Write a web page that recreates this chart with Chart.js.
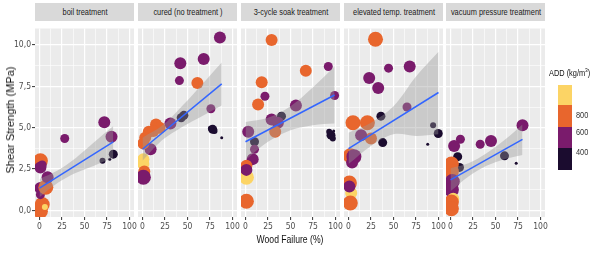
<!DOCTYPE html>
<html><head><meta charset="utf-8">
<script src="https://cdn.jsdelivr.net/npm/chart.js@4/dist/chart.umd.min.js"></script>
<style>
html,body{margin:0;padding:0;background:#fff;width:600px;height:258px;overflow:hidden;}
#wrap{position:relative;width:600px;height:258px;}
.strip{position:absolute;top:3px;height:18px;background:#D9D9D9;overflow:hidden;}
.strip span{position:absolute;left:50%;top:50%;white-space:nowrap;color:#1A1A1A;font-family:"Liberation Sans",Arial,sans-serif;font-size:9.5px;line-height:10px;transform:translate(-50%,-50%) scaleX(0.78);}
canvas{position:absolute;}
.ytitle{position:absolute;left:10px;top:120px;transform:translate(-50%,-50%) rotate(-90deg);font-family:"Liberation Sans",Arial,sans-serif;font-size:11px;color:#111;white-space:nowrap;}
.xtitle{position:absolute;left:290px;top:239px;transform:translate(-50%,-50%) scaleX(0.82);font-family:"Liberation Sans",Arial,sans-serif;font-size:10.5px;color:#111;white-space:nowrap;}
.ltitle{position:absolute;left:549px;top:67px;transform:scaleX(0.82);transform-origin:0 50%;font-family:"Liberation Sans",Arial,sans-serif;font-size:9px;color:#111;white-space:nowrap;}
.lblock{position:absolute;left:558px;width:14px;}
.llab{position:absolute;left:576px;transform:translateY(-50%) scaleX(0.82);transform-origin:0 50%;font-family:"Liberation Sans",Arial,sans-serif;font-size:9px;color:#333;}
</style>
</head>
<body>
<div id="wrap"></div>
<script>
// ---------- data ----------
const FACETS = ['boil treatment','cured (no treatment )','3-cycle soak treatment','elevated temp. treatment','vacuum pressure treatment'];

const boilWF  = [1, 3, 6, 1, 1, 7, 9, 1, 1, 3, 28, 72, 80, 82, 70, 78];
const boilSS  = [-0.05, 0.35, 0.2, 0.95, 1.35, 1.4, 2.0, 3.0, 2.6, 2.75, 4.35, 5.33, 4.45, 3.4, 3.0, 3.1];
const boilADD = [760, 760, 950, 560, 560, 760, 560, 760, 560, 560, 560, 560, 560, 380, 380, 380];
const boilSZ  = [5, 5, 2, 3, 4, 5, 4, 5, 4, 3, 3, 4, 4, 3, 2, 1];
const boilFitX = [0, 82];
const boilFitY = [1.35, 4.15];
const boilBandX  = [0, 20, 40, 60, 82];
const boilBandLo = [0.8, 1.65, 2.26, 2.69, 3.2];
const boilBandHi = [1.9, 2.41, 3.16, 4.09, 5.1];

const cureWF  = [86, 42, 68, 41, 61, 76, 78, 80, 76, 88, 43, 46, 31, 7, 15, 19, 12, 3, 9, 1, 1, 1, 2, 1];
const cureSS  = [10.45, 8.9, 9.15, 7.85, 7.7, 6.15, 4.9, 4.8, 4.95, 4.4, 5.6, 5.75, 5.25, 4.75, 5.2, 5.0, 4.8, 4.4, 3.7, 4.05, 3.1, 2.8, 2.35, 2.0];
const cureADD = [560, 560, 560, 560, 760, 560, 380, 380, 380, 380, 380, 380, 560, 760, 760, 760, 760, 760, 560, 760, 950, 950, 760, 560];
const cureSZ  = [4, 4, 4, 3, 4, 3, 3, 2, 2, 1, 3, 3, 4, 4, 4, 4, 4, 4, 4, 4, 4, 4, 4, 5];
const cureFitX = [0, 88];
const cureFitY = [3.7, 7.65];
const cureBandX  = [0, 22, 44, 66, 88];
const cureBandLo = [3.0, 4.25, 5.05, 5.7, 6.35];
const cureBandHi = [4.4, 5.13, 6.31, 7.62, 8.95];

const soakWF  = [29, 67, 92, 18, 21.6, 14, 99, 56, 40, 29, 36, 33, 3, 10, 10, 8, 1, 1, 1, 1, 95, 93, 98, 97];
const soakSS  = [10.3, 8.45, 8.7, 7.75, 6.9, 6.4, 6.95, 6.35, 5.7, 5.5, 5.3, 4.75, 4.75, 4.15, 3.7, 3.1, 2.7, 2.0, 2.45, 0.55, 4.55, 4.75, 4.8, 4.35];
const soakADD = [760, 760, 560, 760, 560, 760, 560, 560, 380, 560, 560, 760, 560, 380, 560, 560, 760, 950, 560, 760, 380, 380, 380, 380];
const soakSZ  = [4, 4, 3, 4, 3, 4, 3, 4, 3, 4, 4, 4, 4, 3, 3, 4, 4, 5, 4, 5, 3, 2, 1, 2];
const soakFitX = [0, 99];
const soakFitY = [4.15, 6.98];
const soakBandX  = [0, 25, 50, 75, 99];
const soakBandLo = [3.05, 4.15, 4.85, 5.15, 5.25];
const soakBandHi = [5.35, 5.6, 6.3, 7.45, 8.7];

const elevWF  = [30, 44.5, 68, 23, 33, 65, 36, 5, 21, 25, 14, 38, 94, 99.7, 88, 2, 6, 4, 1, 3, 1, 2];
const elevSS  = [10.35, 8.6, 8.7, 8.0, 7.4, 6.25, 5.7, 5.3, 5.3, 4.35, 4.55, 4.1, 5.15, 4.65, 4.0, 3.3, 3.25, 2.9, 1.65, 1.05, 1.45, 0.45];
const elevADD = [760, 560, 560, 560, 560, 560, 380, 760, 760, 760, 560, 380, 380, 380, 380, 760, 560, 560, 760, 950, 560, 760];
const elevSZ  = [5, 3, 4, 4, 4, 3, 3, 5, 5, 4, 4, 3, 2, 3, 1, 5, 5, 4, 5, 4, 4, 5];
const elevFitX = [0, 100];
const elevFitY = [3.74, 7.13];
const elevBandX  = [0, 25, 50, 75, 100];
const elevBandLo = [2.8, 3.9, 4.6, 4.5, 4.6];
const elevBandHi = [4.7, 5.3, 6.3, 8.1, 9.6];

const vacWF  = [80, 45, 33, 11, 4, 60, 73, 8, 10, 1, 1, 2, 1, 3, 1, 1];
const vacSS  = [5.15, 4.2, 4.0, 4.3, 3.9, 3.3, 2.85, 3.25, 2.6, 2.8, 2.35, 1.75, 1.25, 0.7, 0.5, 0.1];
const vacADD = [560, 560, 560, 560, 560, 380, 380, 380, 380, 760, 760, 560, 560, 950, 760, 760];
const vacSZ  = [4, 4, 3, 3, 4, 3, 1, 3, 3, 5, 5, 5, 5, 4, 5, 5];
const vacFitX = [0, 80];
const vacFitY = [1.84, 4.3];
const vacBandX  = [0, 20, 40, 60, 80];
const vacBandLo = [1.15, 2.05, 2.7, 3.1, 3.35];
const vacBandHi = [2.55, 2.85, 3.45, 4.25, 5.2];

const Y_TICKS = [0, 2.5, 5, 7.5, 10];
const Y_TICK_LABELS = ['0,0', '2,5', '5,0', '7,5', '10,0'];
const X_TICKS = [0, 25, 50, 75, 100];
const X_TICK_LABELS = ['0', '25', '50', '75', '100'];
const ADD_BREAKS = [443, 654, 908];
const LEGEND_LABELS = [800, 600, 400];

// ---------- styling ----------
const ADD_COLORS = ['#1B0C2F', '#7A1B6C', '#E8662D', '#FCD465'];
const SIZE_R = [0, 1.5, 3, 4.5, 6, 7.5];
const TICKFONT = '"DejaVu Sans Condensed","Liberation Sans Narrow",sans-serif';
const PL = [35, 138, 241, 344, 446];   // panel left (px)
const PW = 99, PTOP = 21, PH = 196, XAX = 16, PAD = 8;

function addColor(v){
  if (v < ADD_BREAKS[0]) return ADD_COLORS[0];
  if (v < ADD_BREAKS[1]) return ADD_COLORS[1];
  if (v < ADD_BREAKS[2]) return ADD_COLORS[2];
  return ADD_COLORS[3];
}

const PANELS = [
  {wf:boilWF, ss:boilSS, add:boilADD, sz:boilSZ, fx:boilFitX, fy:boilFitY, bx:boilBandX, lo:boilBandLo, hi:boilBandHi},
  {wf:cureWF, ss:cureSS, add:cureADD, sz:cureSZ, fx:cureFitX, fy:cureFitY, bx:cureBandX, lo:cureBandLo, hi:cureBandHi},
  {wf:soakWF, ss:soakSS, add:soakADD, sz:soakSZ, fx:soakFitX, fy:soakFitY, bx:soakBandX, lo:soakBandLo, hi:soakBandHi},
  {wf:elevWF, ss:elevSS, add:elevADD, sz:elevSZ, fx:elevFitX, fy:elevFitY, bx:elevBandX, lo:elevBandLo, hi:elevBandHi},
  {wf:vacWF, ss:vacSS, add:vacADD, sz:vacSZ, fx:vacFitX, fy:vacFitY, bx:vacBandX, lo:vacBandLo, hi:vacBandHi}
];

function withMinors(major){
  const out = [];
  for (let k = 0; k < major.length; k++){
    out.push(major[k]);
    if (k < major.length - 1) out.push((major[k] + major[k+1]) / 2);
  }
  return out;
}
const X_GRID = withMinors(X_TICKS);
const Y_GRID = withMinors(Y_TICKS);

const bgPlugin = {
  id:'panelBg',
  beforeDraw(chart){
    const a = chart.chartArea, c = chart.ctx;
    c.save(); c.fillStyle = '#EBEBEB';
    c.fillRect(a.left, a.top, a.right - a.left, a.bottom - a.top);
    c.restore();
  }
};

const wrap = document.getElementById('wrap');

PANELS.forEach((d, i) => {
  const strip = document.createElement('div');
  strip.className = 'strip';
  strip.style.left = PL[i] + 'px';
  strip.style.width = PW + 'px';
  const sp = document.createElement('span');
  sp.textContent = FACETS[i];
  strip.appendChild(sp);
  wrap.appendChild(strip);

  const first = i === 0;
  const yW = first ? PL[0] : 0;
  const cv = document.createElement('canvas');
  const cLeft = first ? 0 : PL[i] - PAD;
  const cW = first ? PL[0] + PW + PAD : PW + 2 * PAD;
  cv.width = cW; cv.height = PH + XAX;
  cv.style.left = cLeft + 'px'; cv.style.top = PTOP + 'px';
  cv.style.width = cW + 'px'; cv.style.height = (PH + XAX) + 'px';
  wrap.appendChild(cv);

  const pts = d.wf.map((x, k) => ({x: x, y: d.ss[k], r: SIZE_R[d.sz[k]]}));
  const fit = d.fx.map((x, k) => ({x: x, y: d.fy[k]}));
  const hi = d.bx.map((x, k) => ({x: x, y: d.hi[k]}));
  const lo = d.bx.map((x, k) => ({x: x, y: d.lo[k]}));

  new Chart(cv, {
    type: 'bubble',
    data: { datasets: [
      {type:'line', data: fit, borderColor:'#3366FF', borderWidth:1.5, pointRadius:0, fill:false, order:0, clip:0},
      {type:'line', data: hi, borderColor:'rgba(0,0,0,0)', borderWidth:0, pointRadius:0, fill:'+1', backgroundColor:'rgba(153,153,153,0.4)', tension:0.35, order:1, clip:0},
      {type:'line', data: lo, borderColor:'rgba(0,0,0,0)', borderWidth:0, pointRadius:0, fill:false, tension:0.35, order:1, clip:0},
      {type:'bubble', data: pts, backgroundColor: d.add.map(addColor), borderWidth:0, hoverRadius:0, order:2, clip:0}
    ]},
    options: {
      responsive:false, animation:false, events:[], devicePixelRatio:1,
      layout:{padding:{left: first ? 0 : PAD, right: PAD, top:0, bottom:0}},
      plugins:{legend:{display:false}, tooltip:{enabled:false}},
      scales:{
        x:{
          type:'linear', min:-5, max:105,
          afterBuildTicks: s => { s.ticks = X_GRID.map(v => ({value:v})); },
          afterFit: s => { s.height = XAX; s.paddingLeft = 0; s.paddingRight = 0; },
          border:{display:false},
          grid:{
            color:'#FFFFFF',
            lineWidth: c => (X_TICKS.includes(c.tick.value) ? 1.2 : 0.6),
            drawTicks:true, tickLength:3, tickWidth:1,
            tickColor: c => (X_TICKS.includes(c.tick.value) ? '#333333' : 'rgba(0,0,0,0)')
          },
          ticks:{
            autoSkip:false, maxRotation:0, minRotation:0, padding:2, color:'#4D4D4D',
            font:{family:TICKFONT, size:8.5},
            callback: v => { const k = X_TICKS.indexOf(v); return k >= 0 ? X_TICK_LABELS[k] : ''; }
          }
        },
        y:{
          type:'linear', min:-0.4, max:11.0,
          afterBuildTicks: s => { s.ticks = Y_GRID.map(v => ({value:v})); },
          afterFit: s => { s.width = yW; s.paddingTop = 0; s.paddingBottom = 0; },
          border:{display:false},
          grid:{
            color:'#FFFFFF',
            lineWidth: c => (Y_TICKS.includes(c.tick.value) ? 1.2 : 0.6),
            drawTicks:first, tickLength:3, tickWidth:1,
            tickColor: c => (Y_TICKS.includes(c.tick.value) ? '#333333' : 'rgba(0,0,0,0)')
          },
          ticks:{
            display:first, autoSkip:false, padding:1, color:'#4D4D4D',
            font:{family:TICKFONT, size:8.5},
            callback: v => { const k = Y_TICKS.indexOf(v); return k >= 0 ? Y_TICK_LABELS[k] : ''; }
          }
        }
      }
    },
    plugins:[bgPlugin]
  });
});

// axis titles
const yt = document.createElement('div'); yt.className = 'ytitle'; yt.textContent = 'Shear Strength (MPa)'; wrap.appendChild(yt);
const xt = document.createElement('div'); xt.className = 'xtitle'; xt.textContent = 'Wood Failure (%)'; wrap.appendChild(xt);

// legend (ADD colour bar)
const lt = document.createElement('div'); lt.className = 'ltitle'; lt.innerHTML = 'ADD (kg/m<sup style="font-size:6px">3</sup>)'; wrap.appendChild(lt);
const blockEdges = [85, 105, 126.7, 148.3, 170];
[3, 2, 1, 0].forEach((ci, k) => {
  const b = document.createElement('div'); b.className = 'lblock';
  b.style.top = blockEdges[k] + 'px';
  b.style.height = (blockEdges[k+1] - blockEdges[k]) + 'px';
  b.style.background = ADD_COLORS[ci];
  wrap.appendChild(b);
});
const labY = [115, 132, 152];
LEGEND_LABELS.forEach((v, k) => {
  const l = document.createElement('div'); l.className = 'llab';
  l.style.top = labY[k] + 'px'; l.textContent = String(v);
  wrap.appendChild(l);
});
</script>
</body></html>
